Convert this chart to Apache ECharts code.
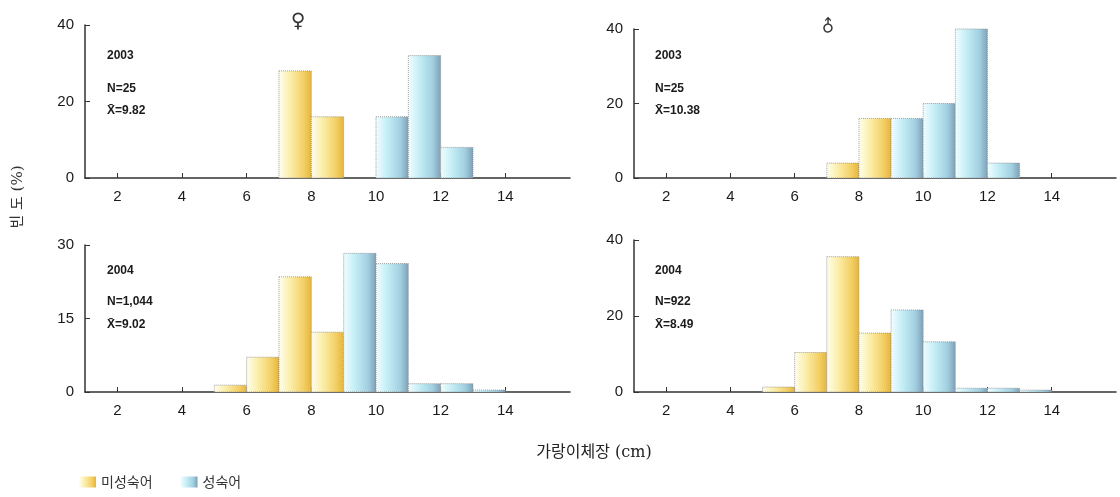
<!DOCTYPE html>
<html><head><meta charset="utf-8">
<script src="https://cdn.jsdelivr.net/npm/echarts@6/dist/echarts.min.js"></script>
<style>html,body{margin:0;padding:0;background:#fff}#c{width:1120px;height:497px}</style>
</head><body><div id="c"></div>
<script>
// Size-class bins (left edges, cm); each bar spans [start, start+1]
const xTicks = [2, 4, 6, 8, 10, 12, 14];
const seriesNames = ['미성숙어', '성숙어'];

// Female 2003 (♀), N=25
const f2003ImmStart = [7, 8];
const f2003ImmVal = [28, 16];
const f2003MatStart = [10, 11, 12];
const f2003MatVal = [16, 32, 8];

// Male 2003 (♂), N=25
const m2003ImmStart = [7, 8];
const m2003ImmVal = [4, 16];
const m2003MatStart = [9, 10, 11, 12];
const m2003MatVal = [16, 20, 40, 4];

// Female 2004, N=1,044
const f2004ImmStart = [5, 6, 7, 8];
const f2004ImmVal = [1.4, 7.1, 23.5, 12.2];
const f2004MatStart = [9, 10, 11, 12, 13];
const f2004MatVal = [28.3, 26.2, 1.7, 1.7, 0.4];

// Male 2004, N=922
const m2004ImmStart = [5, 6, 7, 8];
const m2004ImmVal = [1.3, 10.4, 35.6, 15.5];
const m2004MatStart = [9, 10, 11, 12, 13];
const m2004MatVal = [21.6, 13.2, 1.0, 1.0, 0.5];

const panelYMax = [40, 40, 30, 40];
const panelYInterval = [20, 20, 15, 20];
const panelNotes = [
  ['2003', 'N=25', 'X̄=9.82'],
  ['2003', 'N=25', 'X̄=10.38'],
  ['2004', 'N=1,044', 'X̄=9.02'],
  ['2004', 'N=922', 'X̄=8.49']
];

const panels = [
  [f2003ImmStart, f2003ImmVal, f2003MatStart, f2003MatVal],
  [m2003ImmStart, m2003ImmVal, m2003MatStart, m2003MatVal],
  [f2004ImmStart, f2004ImmVal, f2004MatStart, f2004MatVal],
  [m2004ImmStart, m2004ImmVal, m2004MatStart, m2004MatVal]
];

const gridBoxes = [
  {left: 85, top: 25, width: 485, height: 153},
  {left: 634, top: 29, width: 482, height: 149},
  {left: 85, top: 245, width: 485, height: 147},
  {left: 634, top: 240, width: 482, height: 152}
];

function yellowGrad() {
  return new echarts.graphic.LinearGradient(0, 0, 1, 0, [
    {offset: 0, color: '#fffef0'},
    {offset: 0.35, color: '#fbeeaa'},
    {offset: 0.75, color: '#f3d066'},
    {offset: 1, color: '#e6b43a'}
  ]);
}
function blueGrad() {
  return new echarts.graphic.LinearGradient(0, 0, 1, 0, [
    {offset: 0, color: '#f2fdff'},
    {offset: 0.35, color: '#c4eef6'},
    {offset: 0.75, color: '#a2cfe0'},
    {offset: 1, color: '#7d9fb6'}
  ]);
}
const grads = [yellowGrad, blueGrad];

function renderBin(params, api) {
  const x0 = api.value(0), v = api.value(1);
  const p1 = api.coord([x0, v]);
  const p2 = api.coord([x0 + 1, 0]);
  return {
    type: 'rect',
    shape: {x: p1[0], y: p1[1], width: p2[0] - p1[0], height: p2[1] - p1[1]},
    style: {fill: grads[params.seriesIndex % 2](), stroke: '#8a8a8a', lineWidth: 0.8, lineDash: [1, 1]}
  };
}

const font = 'Liberation Sans, Arial, sans-serif';
const grid = [], xAxis = [], yAxis = [], series = [], graphic = [];

panels.forEach((p, i) => {
  grid.push(Object.assign({containLabel: false}, gridBoxes[i]));
  xAxis.push({
    type: 'value', gridIndex: i, min: 1, max: 16,
    axisLine: {lineStyle: {color: '#333', width: 1.5}},
    axisTick: {inside: true, length: 5, customValues: xTicks, lineStyle: {color: '#333'}},
    axisLabel: {customValues: xTicks, color: '#1a1a1a', fontSize: 15, fontFamily: font, margin: 11},
    splitLine: {show: false}
  });
  yAxis.push({
    type: 'value', gridIndex: i, min: 0, max: panelYMax[i], interval: panelYInterval[i],
    axisLine: {show: true, lineStyle: {color: '#333', width: 1.5}},
    axisTick: {show: true, inside: true, length: 5, lineStyle: {color: '#333'}},
    axisLabel: {color: '#1a1a1a', fontSize: 15, fontFamily: font, margin: 11},
    splitLine: {show: false}
  });
  [0, 1].forEach(k => {
    const starts = p[k * 2], vals = p[k * 2 + 1];
    series.push({
      name: seriesNames[k], type: 'custom', xAxisIndex: i, yAxisIndex: i,
      itemStyle: {color: grads[k]()},
      renderItem: renderBin,
      encode: {x: 0, y: 1},
      data: starts.map((s, j) => [s, vals[j]])
    });
  });
  const g = gridBoxes[i];
  const notes = panelNotes[i];
  const bx = g.left + (i % 2 === 0 ? 22 : 21);
  const by = i < 2 ? [57, 90, 112] : [272, 303, 326];
  notes.forEach((t, j) => {
    graphic.push({type: 'text', left: bx, top: by[j] - 7,
      style: {text: t, font: 'bold 12px ' + font, fill: '#1a1a1a'}});
  });
});

graphic.push({type: 'text', x: 298, y: 22, style: {text: '♀', font: '20px DejaVu Sans', fill: '#333', align: 'center', verticalAlign: 'middle'}});
graphic.push({type: 'text', x: 829, y: 27, rotation: Math.PI / 4, style: {text: '♂', font: '17px DejaVu Sans', fill: '#333', align: 'center', verticalAlign: 'middle'}});
graphic.push({type: 'text', x: 18, y: 197, rotation: Math.PI / 2, style: {text: '빈 도 (%)', font: '15px "DejaVu Serif", "Noto Sans CJK KR"', fill: '#333', align: 'center', verticalAlign: 'middle'}});
graphic.push({type: 'text', x: 594, y: 453, style: {text: '가랑이체장 (cm)', font: '16px "DejaVu Serif", "Noto Sans CJK KR"', fill: '#222', align: 'center', verticalAlign: 'middle'}});

const chart = echarts.init(document.getElementById('c'), null, {renderer: 'canvas'});
chart.setOption({
  animation: false,
  backgroundColor: '#fff',
  grid, xAxis, yAxis, series, graphic,
  legend: {
    data: seriesNames, left: 74, top: 470, orient: 'horizontal',
    itemWidth: 17, itemHeight: 11, itemGap: 28, icon: 'rect',
    textStyle: {fontSize: 14, color: '#333', fontFamily: '"Noto Sans CJK KR"'}
  }
});
</script></body></html>
